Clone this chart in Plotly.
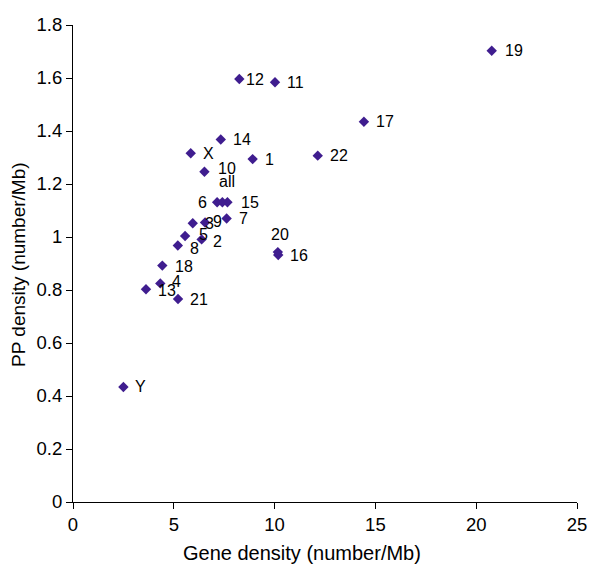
import plotly.graph_objects as go

# Data
labels = ["1", "2", "3", "4", "5", "6", "7", "8", "9", "10", "11", "12", "13",
          "14", "15", "16", "17", "18", "19", "20", "21", "22", "X", "Y", "all"]
gene_density = [8.91, 6.38, 5.94, 4.33, 5.56, 7.15, 7.62, 5.20, 6.55, 6.52, 10.02, 8.25, 3.62,
                7.33, 7.66, 10.18, 14.43, 4.43, 20.77, 10.16, 5.21, 12.14, 5.84, 2.50, 7.41]
pp_density = [1.294, 0.991, 1.052, 0.825, 1.004, 1.131, 1.070, 0.968, 1.055, 1.246, 1.584, 1.596, 0.803,
              1.368, 1.131, 0.932, 1.435, 0.892, 1.703, 0.943, 0.766, 1.307, 1.316, 0.434, 1.131]

x_ticks = [0, 5, 10, 15, 20, 25]
y_ticks = [0, 0.2, 0.4, 0.6, 0.8, 1, 1.2, 1.4, 1.6, 1.8]
y_tick_text = ["0", "0.2", "0.4", "0.6", "0.8", "1", "1.2", "1.4", "1.6", "1.8"]
x_title = "Gene density (number/Mb)"
y_title = "PP density (number/Mb)"

# Label placement (pixel offsets dx, dy-down, anchor; style only)
default_off = (10, 0, "left")
label_off = {
    "12": (5, 0, "left"),
    "10": (12, -3, "left"),
    "all": (-5, -21, "left"),
    "6": (-8, 0, "right"),
    "15": (12, 0, "left"),
    "3": (10, 0, "left"),
    "9": (6, -1, "left"),
    "5": (12, -1, "left"),
    "2": (9, 2, "left"),
    "8": (10, 3, "left"),
    "4": (10, -2, "left"),
    "13": (10, 1, "left"),
    "20": (-9, -18, "left"),
    "19": (11, 0, "left"),
    "18": (11, 1, "left"),
}

FONT = "Liberation Sans, Arial, Helvetica, sans-serif"
MARK = "#3f1d8f"

fig = go.Figure()
fig.add_trace(go.Scatter(
    x=gene_density, y=pp_density, mode="markers",
    marker=dict(symbol="diamond", size=8, color=MARK, line=dict(width=0)),
    hoverinfo="text", text=labels, showlegend=False,
))

annotations = []
for lab, xv, yv in zip(labels, gene_density, pp_density):
    dx, dy, anc = label_off.get(lab, default_off)
    annotations.append(dict(
        x=xv, y=yv, xref="x", yref="y", text=lab, showarrow=False,
        xanchor=anc, yanchor="middle", xshift=dx, yshift=-dy,
        font=dict(family=FONT, size=16, color="black"),
    ))

# Axis titles as annotations (positioned like the reference)
annotations.append(dict(
    x=0.454, y=0, xref="paper", yref="paper", yshift=-51, text=x_title,
    showarrow=False, xanchor="center", yanchor="middle",
    font=dict(family=FONT, size=20, color="black"),
))
annotations.append(dict(
    x=0, y=0.497, xref="paper", yref="paper", xshift=-54, text=y_title,
    showarrow=False, xanchor="center", yanchor="middle", textangle=-90,
    font=dict(family=FONT, size=19, color="black"),
))

fig.update_layout(
    width=600, height=584,
    margin=dict(l=65, r=31, t=17, b=90, autoexpand=False),
    paper_bgcolor="white", plot_bgcolor="white",
    font=dict(family=FONT, size=16, color="black"),
    annotations=annotations,
    xaxis=dict(
        range=[0, 25], tickvals=x_ticks, ticks="outside", ticklen=6, tickwidth=1,
        tickcolor="black", showline=True, linecolor="black", linewidth=1,
        showgrid=False, zeroline=False, tickfont=dict(size=18.5),
    ),
    yaxis=dict(
        range=[0, 1.8], tickvals=y_ticks, ticktext=y_tick_text, ticks="outside",
        ticklen=6, tickwidth=1, tickcolor="black", showline=True,
        linecolor="black", linewidth=1, showgrid=False, zeroline=False,
        tickfont=dict(size=18.5),
    ),
)

fig.write_html("out.html")
